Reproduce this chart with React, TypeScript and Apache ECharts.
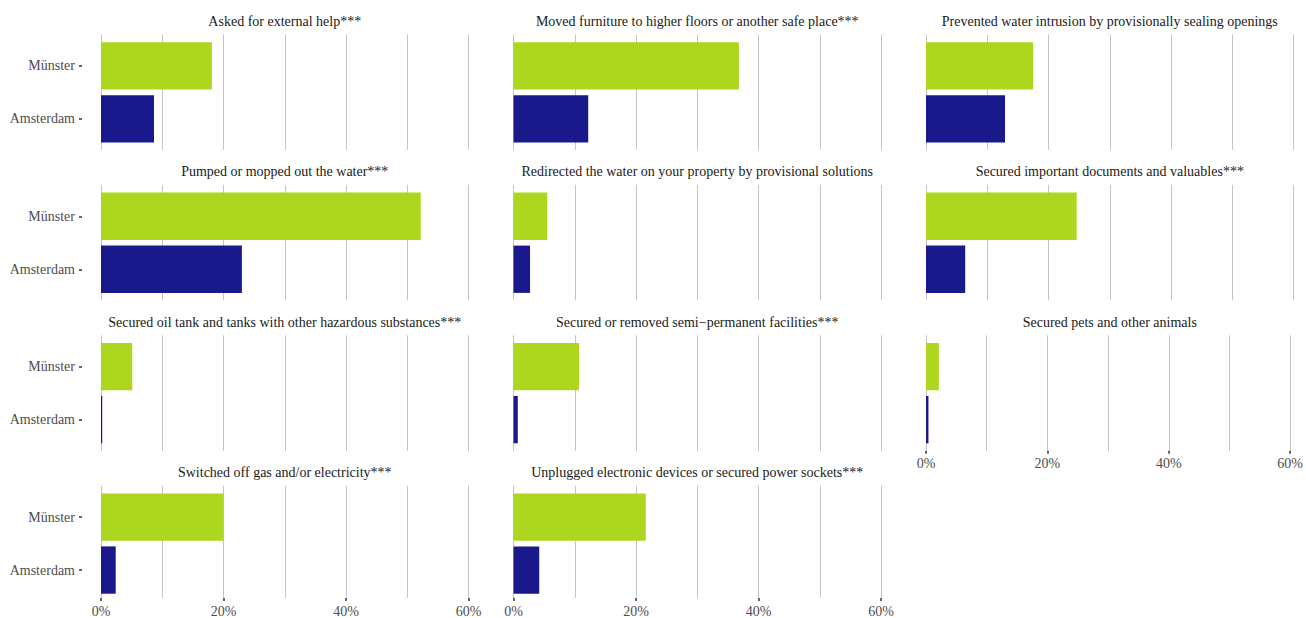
import React, { useEffect, useRef } from "react";
import * as echarts from "echarts";

const titles = [
  "Asked for external help***",
  "Moved furniture to higher floors or another safe place***",
  "Prevented water intrusion by provisionally sealing openings",
  "Pumped or mopped out the water***",
  "Redirected the water on your property by provisional solutions",
  "Secured important documents and valuables***",
  "Secured oil tank and tanks with other hazardous substances***",
  "Secured or removed semi\u2212permanent facilities***",
  "Secured pets and other animals",
  "Switched off gas and/or electricity***",
  "Unplugged electronic devices or secured power sockets***",
];
const cities = ["Münster", "Amsterdam"];
const munster = [18.1, 36.8, 17.5, 52.2, 5.5, 24.6, 5.1, 10.7, 2.1, 20.0, 21.6];
const amsterdam = [8.65, 12.2, 12.9, 23.0, 2.7, 6.4, 0.2, 0.7, 0.4, 2.4, 4.2];
const xTicks = [0, 20, 40, 60];

const GREEN = "#acd71e";
const BLUE = "#19198b";
const FONT = "Liberation Serif";
const FS = 14;

export default function App() {
  const ref = useRef<HTMLDivElement>(null);
  useEffect(() => {
    if (!ref.current) return;
    const chart = echarts.init(ref.current, null, { renderer: "svg" });
    const colLeft = [101, 513.5, 926];
    const panelW = 367.5;
    const rowStep = 150.4;
    const gap = 19; // panel expansion left of 0%
    const xMax = xTicks[xTicks.length - 1];
    const xMinB = -(gap * xMax) / panelW;
    const grids: any[] = [];
    const xAxes: any[] = [];
    const yAxes: any[] = [];
    const series: any[] = [];
    const graphics: any[] = [];
    titles.forEach((t, i) => {
      const col = i % 3;
      const row = Math.floor(i / 3);
      const left = colLeft[col];
      const topA = 34.5 + rowStep * row;
      const hasX = row === 3 || i === 8;
      const hasY = col === 0;
      grids.push({ left, top: topA, width: panelW, height: 115.5, containLabel: false });
      grids.push({
        left: left - gap,
        top: topA + 4.85,
        width: panelW + gap,
        height: 106,
        containLabel: false,
      });
      const gA = grids.length - 2;
      const gB = grids.length - 1;
      xAxes.push({
        type: "value",
        gridIndex: gA,
        min: xTicks[0],
        max: xMax,
        interval: 20,
        axisLine: { show: true, onZero: false, lineStyle: { color: "rgba(0,0,0,0)", width: 0 } },
        axisTick: { show: hasX, length: 3, lineStyle: { color: "#333333", width: 1.5 } },
        axisLabel: {
          show: hasX,
          formatter: "{value}%",
          color: "#4d4d4d",
          fontSize: FS,
          fontFamily: FONT,
          margin: 6,
        },
        splitLine: { show: true, lineStyle: { color: "#c4c4c4", width: 1 } },
        minorTick: { show: false, splitNumber: 2 },
        minorSplitLine: { show: true, lineStyle: { color: "#c4c4c4", width: 1 } },
      });
      yAxes.push({ type: "category", gridIndex: gA, data: cities, show: false });
      xAxes.push({ type: "value", gridIndex: gB, min: xMinB, max: xMax, show: false });
      yAxes.push({
        type: "category",
        gridIndex: gB,
        data: cities,
        inverse: true,
        axisLine: { show: true, onZero: false, lineStyle: { color: "rgba(0,0,0,0)", width: 0 } },
        axisTick: {
          show: hasY,
          length: 3,
          alignWithLabel: true,
          lineStyle: { color: "#333333", width: 1.5 },
        },
        axisLabel: {
          show: hasY,
          color: "#4d4d4d",
          fontSize: FS,
          fontFamily: FONT,
          margin: 7,
        },
        splitLine: { show: false },
      });
      series.push({
        type: "bar",
        xAxisIndex: xAxes.length - 1,
        yAxisIndex: yAxes.length - 1,
        barWidth: 47.3,
        data: [
          { value: munster[i], itemStyle: { color: GREEN } },
          { value: amsterdam[i], itemStyle: { color: BLUE } },
        ],
      });
      graphics.push({
        type: "text",
        x: left + panelW / 2,
        y: 21.3 + rowStep * row,
        style: {
          text: t,
          fill: "#1a1a1a",
          font: `${FS}px "${FONT}"`,
          textAlign: "center",
          textVerticalAlign: "middle",
        },
      });
    });
    chart.setOption({
      animation: false,
      backgroundColor: "#ffffff",
      grid: grids,
      xAxis: xAxes,
      yAxis: yAxes,
      series,
      graphic: graphics,
    });
    return () => chart.dispose();
  }, []);
  return (
    <div
      ref={ref}
      style={{ position: "fixed", left: 0, top: 0, width: 1306, height: 618, background: "#fff" }}
    />
  );
}
